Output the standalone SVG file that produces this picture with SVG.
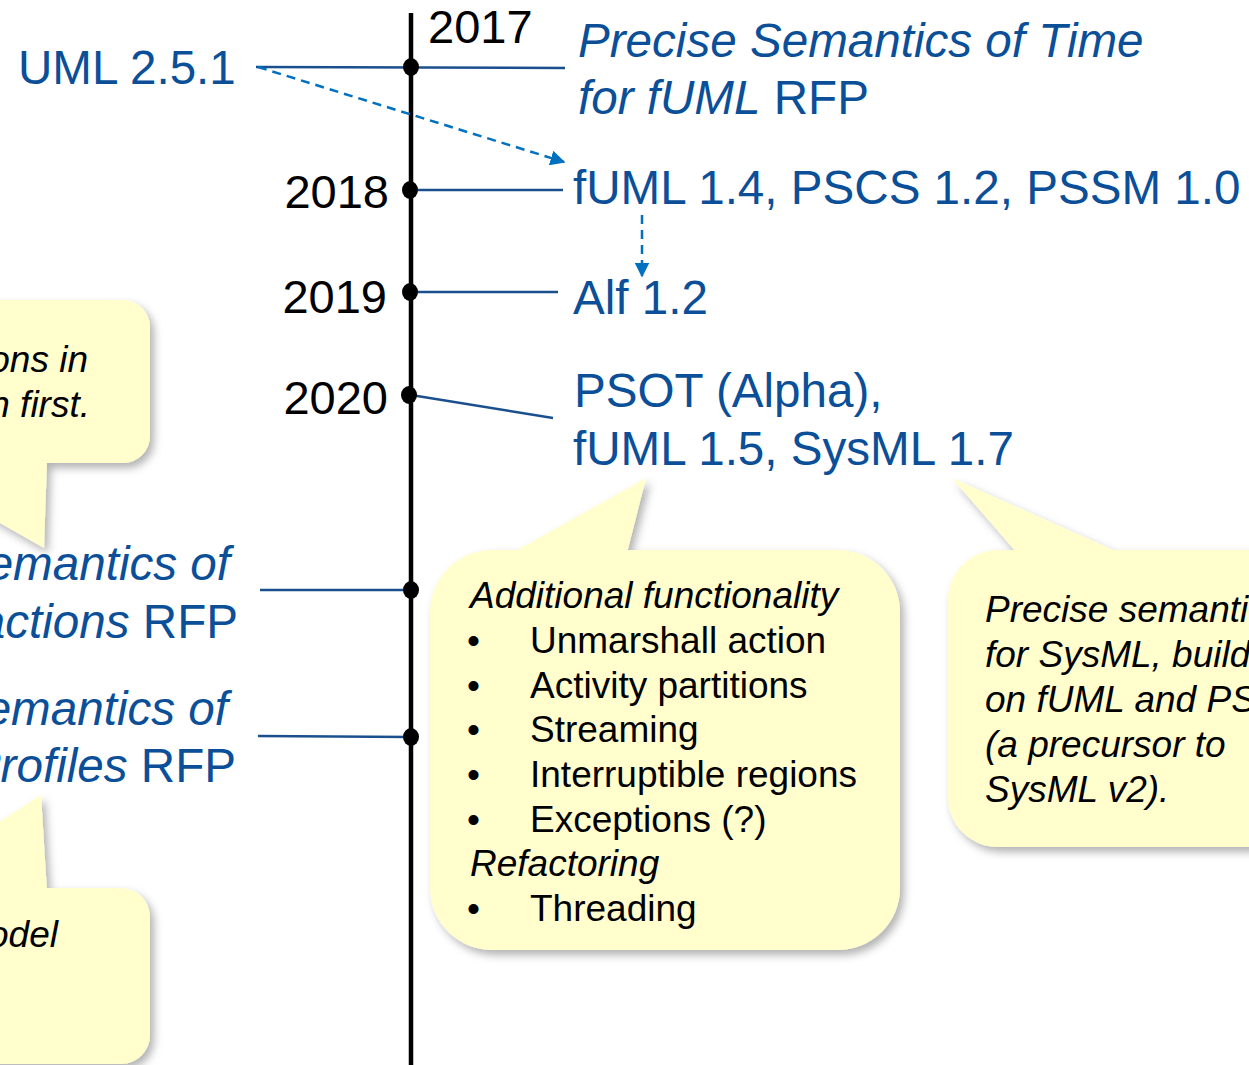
<svg xmlns="http://www.w3.org/2000/svg" width="1249" height="1065" viewBox="0 0 1249 1065">
<style>
.blue{font-family:"Liberation Sans",Arial,sans-serif;font-size:47.6px;fill:#0B4F99}
.year{font-family:"Liberation Sans",Arial,sans-serif;font-size:47px;fill:#000}
.note{font-family:"Liberation Sans",Arial,sans-serif;font-size:37px;fill:#000}
.it{font-style:italic}
.conn{stroke:#1A4F8E;stroke-width:2.5;fill:none}
.dash{stroke:#0070C0;stroke-width:2.5;fill:none;stroke-dasharray:9 6}
.bubble{fill:#FFFECC}
</style>
<defs>
<filter id="sh" x="-10%" y="-10%" width="130%" height="130%">
<feDropShadow dx="4" dy="5" stdDeviation="4" flood-color="#000" flood-opacity="0.3"/>
</filter>
<marker id="ah" viewBox="0 0 10 10" refX="9" refY="5" markerWidth="6" markerHeight="6" orient="auto" markerUnits="strokeWidth">
<path d="M0,0 L10,5 L0,10 z" fill="#0070C0"/>
</marker>
</defs>
<rect width="1249" height="1065" fill="#fff"/>

<g id="callout-top-left" filter="url(#sh)">
<rect class="bubble" x="-80" y="300" width="230" height="163" rx="27"/>
<polygon class="bubble" points="-110,460 47,460 44,548"/>
</g>
<g id="callout-bottom-left" filter="url(#sh)">
<rect class="bubble" x="-80" y="888" width="230" height="176" rx="29"/>
<polygon class="bubble" points="-110,892 47,892 41,795"/>
</g>
<g id="callout-middle" filter="url(#sh)">
<rect class="bubble" x="430" y="550" width="470" height="400" rx="62"/>
<polygon class="bubble" points="512,553 646,478 627,553"/>
</g>
<g id="callout-right" filter="url(#sh)">
<rect class="bubble" x="948" y="550" width="400" height="297" rx="50"/>
<polygon class="bubble" points="1017,553 952,478 1120,553"/>
</g>

<g id="timeline">
<line x1="411" y1="13" x2="411" y2="1065" stroke="#000" stroke-width="4.5"/>
</g>

<g id="connectors">
<line class="conn" x1="256" y1="67" x2="565" y2="68"/>
<line class="conn" x1="411" y1="190" x2="563" y2="190"/>
<line class="conn" x1="411" y1="292" x2="558" y2="292"/>
<line class="conn" x1="411" y1="395" x2="553" y2="418"/>
<line class="conn" x1="260" y1="590" x2="411" y2="590"/>
<line class="conn" x1="258" y1="736" x2="411" y2="737"/>
<line class="dash" x1="258" y1="67" x2="564" y2="162" marker-end="url(#ah)"/>
<line class="dash" x1="642" y1="215" x2="642" y2="276" marker-end="url(#ah)"/>
</g>

<g id="dots" fill="#000">
<ellipse cx="411" cy="67" rx="8" ry="9"/>
<ellipse cx="410" cy="190" rx="8" ry="9"/>
<ellipse cx="410" cy="292" rx="8" ry="9"/>
<ellipse cx="409" cy="395" rx="8" ry="9"/>
<ellipse cx="411" cy="590" rx="8" ry="9"/>
<ellipse cx="411" cy="737" rx="8" ry="9"/>
</g>

<g id="years">
<text class="year" x="428" y="43">2017</text>
<text class="year" x="389" y="208" text-anchor="end">2018</text>
<text class="year" x="387" y="313" text-anchor="end">2019</text>
<text class="year" x="388" y="414" text-anchor="end">2020</text>
</g>

<g id="node-uml"><text class="blue" x="18" y="84">UML 2.5.1</text></g>
<g id="node-psot-rfp">
<text class="blue" x="578" y="57"><tspan class="it">Precise Semantics of Time</tspan></text>
<text class="blue" x="578" y="114"><tspan class="it">for fUML</tspan> RFP</text>
</g>
<g id="node-fuml14"><text class="blue" x="573" y="204">fUML 1.4, PSCS 1.2, PSSM 1.0</text></g>
<g id="node-alf"><text class="blue" x="573" y="314">Alf 1.2</text></g>
<g id="node-psot">
<text class="blue" x="574" y="407">PSOT (Alpha),</text>
<text class="blue" x="573" y="465">fUML 1.5, SysML 1.7</text>
</g>
<g id="node-interactions">
<text class="blue" x="230" y="580" text-anchor="end"><tspan class="it">emantics of</tspan></text>
<text class="blue" x="238" y="638" text-anchor="end"><tspan class="it">actions</tspan> RFP</text>
</g>
<g id="node-profiles">
<text class="blue" x="228" y="725" text-anchor="end"><tspan class="it">emantics of</tspan></text>
<text class="blue" x="236" y="782" text-anchor="end"><tspan class="it">Profiles</tspan> RFP</text>
</g>

<g id="text-top-left" class="note it">
<text x="88" y="372" text-anchor="end">ons in</text>
<text x="90" y="417" text-anchor="end">n first.</text>
</g>
<g id="text-bottom-left" class="note it">
<text x="58" y="947" text-anchor="end">odel</text>
</g>
<g id="text-middle" class="note">
<text x="470" y="608" class="it">Additional functionality</text>
<text x="467" y="653">•</text><text x="530" y="653">Unmarshall action</text>
<text x="467" y="698">•</text><text x="530" y="698">Activity partitions</text>
<text x="467" y="742">•</text><text x="530" y="742">Streaming</text>
<text x="467" y="787">•</text><text x="530" y="787">Interruptible regions</text>
<text x="467" y="832">•</text><text x="530" y="832">Exceptions (?)</text>
<text x="470" y="876" class="it">Refactoring</text>
<text x="467" y="921">•</text><text x="530" y="921">Threading</text>
</g>
<g id="text-right" class="note it">
<text x="985" y="622">Precise semanti</text>
<text x="985" y="667">for SysML, build</text>
<text x="985" y="712">on fUML and PS</text>
<text x="985" y="757">(a precursor to</text>
<text x="985" y="802">SysML v2).</text>
</g>
</svg>
